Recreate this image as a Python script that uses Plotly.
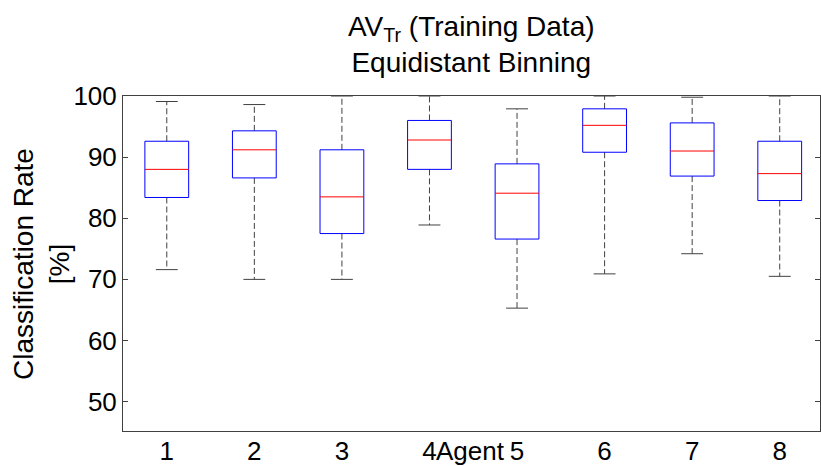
import plotly.graph_objects as go

agents = [1, 2, 3, 4, 5, 6, 7, 8]
upper = [99.1, 98.6, 100.0, 100.0, 97.9, 100.0, 99.8, 100.0]
q3 = [92.6, 94.3, 91.2, 96.0, 88.9, 97.9, 95.6, 92.6]
median = [88.0, 91.2, 83.5, 92.8, 84.1, 95.2, 91.0, 87.3]
q1 = [83.4, 86.6, 77.5, 88.0, 76.6, 90.8, 86.9, 82.9]
lower = [71.6, 70.0, 70.0, 78.9, 65.3, 70.9, 74.2, 70.5]
y_ticks = [50, 60, 70, 80, 90, 100]

box_w = 0.25   # halbe Boxbreite
cap_w = 0.125  # halbe Breite der Whisker-Enden

wx, wy = [], []
bx, by = [], []
mx, my = [], []
cx, cy = [], []
for a, up, hi, med, lo, dn in zip(agents, upper, q3, median, q1, lower):
    # Whisker (gestrichelt)
    wx += [a, a, None, a, a, None]
    wy += [hi, up, None, lo, dn, None]
    # Box
    bx += [a - box_w, a + box_w, a + box_w, a - box_w, a - box_w, None]
    by += [lo, lo, hi, hi, lo, None]
    # Median
    mx += [a - box_w, a + box_w, None]
    my += [med, med, None]
    # Enden
    cx += [a - cap_w, a + cap_w, None, a - cap_w, a + cap_w, None]
    cy += [up, up, None, dn, dn, None]

fig = go.Figure()
fig.add_trace(go.Scatter(x=wx, y=wy, mode='lines', hoverinfo='skip',
                         line=dict(color='#404040', width=1, dash='6px,3px')))
fig.add_trace(go.Scatter(x=cx, y=cy, mode='lines', hoverinfo='skip',
                         line=dict(color='#404040', width=1)))
fig.add_trace(go.Scatter(x=bx, y=by, mode='lines', hoverinfo='skip',
                         line=dict(color='#0000FF', width=1)))
fig.add_trace(go.Scatter(x=mx, y=my, mode='lines', hoverinfo='skip',
                         line=dict(color='#FF0000', width=1)))

font = 'Liberation Sans, Arial, sans-serif'

fig.update_layout(
    width=821, height=466,
    margin=dict(l=123, r=0, t=96, b=33),
    paper_bgcolor='white', plot_bgcolor='white',
    showlegend=False,
    font=dict(family=font, color='black'),
    xaxis=dict(range=[0.5, 8.46], tickvals=agents, ticktext=[str(a) for a in agents],
               showgrid=False, zeroline=False, showline=True, mirror=True,
               linecolor='#404040', linewidth=1, ticks='', ticklabelstandoff=-3,
               tickfont=dict(size=26, family=font, color='black')),
    yaxis=dict(range=[45.2, 100], tickvals=y_ticks, showgrid=False, zeroline=False,
               showline=True, mirror='ticks', linecolor='#404040', linewidth=1,
               ticks='inside', ticklen=5, tickcolor='#404040',
               tickfont=dict(size=26, family=font, color='black')),
    annotations=[
        dict(text='AV<sub>Tr</sub> (Training Data)<br>Equidistant Binning',
             xref='paper', yref='paper', x=0.5, y=1, xanchor='center',
             yanchor='bottom', yshift=16, showarrow=False,
             font=dict(size=28, family=font, color='black')),
        dict(text='Agent', xref='paper', yref='paper', x=0.5, y=0,
             xanchor='center', yanchor='top', yshift=-3, xshift=-1, showarrow=False,
             font=dict(size=26, family=font, color='black')),
        dict(text='Classification Rate<br>[%]', xref='paper', yref='paper',
             x=-0.117, y=0.5, xanchor='center', yanchor='middle', textangle=-90,
             showarrow=False, font=dict(size=28, family=font, color='black')),
    ],
)

# Seitenrand entfernen, damit die Grafik bei (0,0) beginnt
fig.write_html("out.html", config={'displayModeBar': False},
               post_script="document.body.style.margin='0';")
